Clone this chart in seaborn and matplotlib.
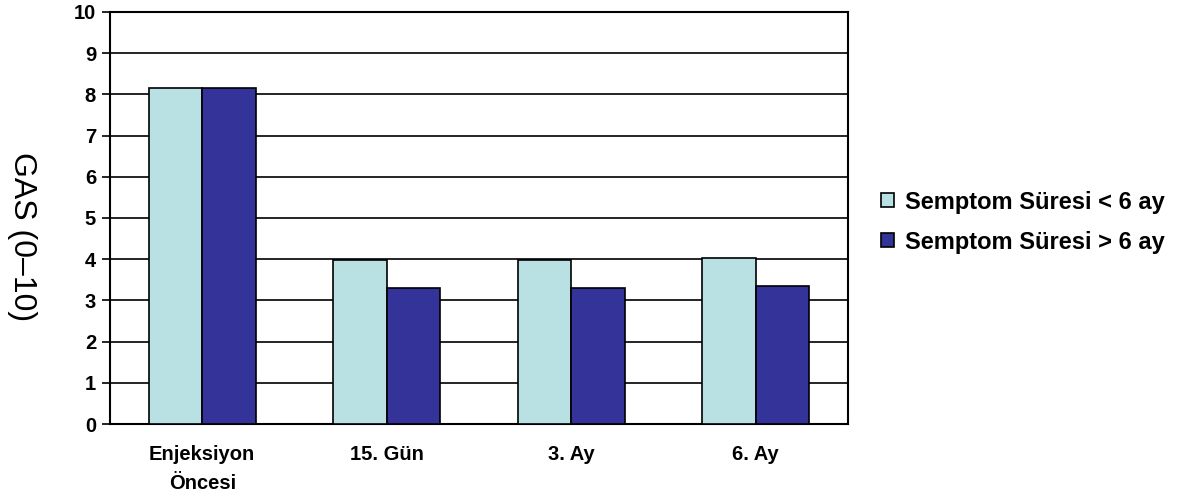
import numpy as np
import pandas as pd
import matplotlib.pyplot as plt
import seaborn as sns
from matplotlib.patches import Patch
from matplotlib.ticker import FixedLocator

sns.set_theme(style="white")
plt.rcParams['font.family'] = ['Liberation Sans', 'DejaVu Sans']
plt.rcParams['text.color'] = 'black'
plt.rcParams['axes.labelcolor'] = 'black'
plt.rcParams['xtick.color'] = 'black'
plt.rcParams['ytick.color'] = 'black'

# data
categories = ["Enjeksiyon\nÖncesi", "15. Gün", "3. Ay", "6. Ay"]
short_group = [8.15, 3.99, 3.99, 4.04]   # Semptom Süresi < 6 ay
long_group = [8.15, 3.30, 3.30, 3.36]    # Semptom Süresi > 6 ay
series = ["Semptom Süresi < 6 ay", "Semptom Süresi > 6 ay"]
colors = ["#B9E0E2", "#333399"]

df = pd.DataFrame({
    "Zaman": categories * 2,
    "GAS": short_group + long_group,
    "Grup": [series[0]] * 4 + [series[1]] * 4,
})

fig = plt.figure(figsize=(11.8, 4.99), dpi=100)
ax = fig.add_axes([0.0932, 0.1503, 0.6254, 0.8257])

sns.barplot(data=df, x="Zaman", y="GAS", hue="Grup", order=categories,
            hue_order=series, palette=colors, saturation=1, width=0.58, gap=0,
            edgecolor="black", linewidth=1.2, ax=ax, legend=False, zorder=3)

ax.set_ylim(0, 10)
ax.set_xlim(-0.5, 3.5)
ax.set_yticks(range(0, 11))
ax.yaxis.grid(True, color="black", linewidth=1.2, zorder=0)
ax.set_axisbelow(True)
for s in ax.spines.values():
    s.set_color("black")
    s.set_linewidth(1.5)

# category labels without ticks, ticks at category boundaries
ax.tick_params(axis="x", which="major", length=0, pad=15)
ax.xaxis.set_minor_locator(FixedLocator(np.arange(-0.5, 4, 1)))
ax.tick_params(axis="x", which="minor", length=6, width=1.2, direction="out")
ax.tick_params(axis="y", length=6, width=1.2, direction="out", left=True, pad=4)
for lab in ax.get_xticklabels():
    lab.set_fontweight("bold")
    lab.set_fontsize(14.5)
    lab.set_linespacing(1.7)
for lab in ax.get_yticklabels():
    lab.set_fontweight("bold")
    lab.set_fontsize(14.5)

ax.set_xlabel("")
ax.set_ylabel("GAS (0–10)", fontsize=23, rotation=270, va="center")
ax.yaxis.set_label_coords(-0.119, 0.455)

handles = [Patch(facecolor=c, edgecolor="black", linewidth=1.2) for c in colors]
fig.legend(handles, series, loc="center left", bbox_to_anchor=(0.729, 0.555),
           frameon=False, prop={"weight": "bold", "size": 17},
           handlelength=0.55, handleheight=0.55, handletextpad=0.45, labelspacing=0.72)

fig.savefig("out.png", dpi=100)
